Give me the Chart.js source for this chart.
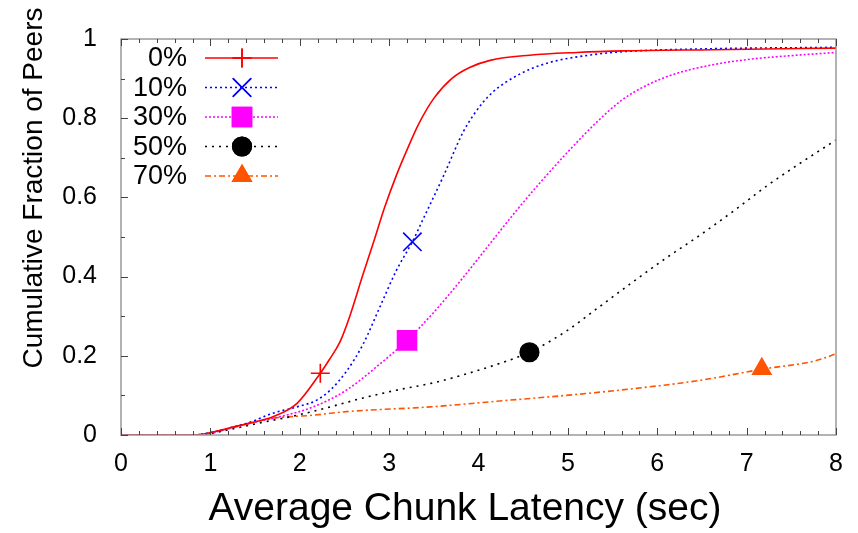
<!DOCTYPE html>
<html>
<head>
<meta charset="utf-8">
<script src="https://cdn.jsdelivr.net/npm/chart.js@4/dist/chart.umd.min.js"></script>
<style>
html,body{margin:0;padding:0;background:#fff;}
#wrap{width:858px;height:533px;}
</style>
</head>
<body>
<div id="wrap"><canvas id="c" width="858" height="533"></canvas></div>
<script>
// ---- data ----
const seriesNames = ["0%", "10%", "30%", "50%", "70%"];

const latency0 = [0, 0.8, 1.0, 1.2, 1.44, 1.7, 1.97, 2.23, 2.33, 2.45, 2.56, 2.7, 2.83, 2.95, 3.08, 3.2, 3.33, 3.5, 3.7, 3.9, 4.13, 4.57, 5.1, 5.62, 6.62, 8];
const cdf0     = [0, 0, 0.006, 0.017, 0.03, 0.046, 0.08, 0.156, 0.19, 0.235, 0.3, 0.4, 0.49, 0.575, 0.655, 0.72, 0.785, 0.85, 0.9, 0.928, 0.946, 0.959, 0.966, 0.970, 0.973, 0.977];

const latency10 = [0, 0.8, 1.0, 1.22, 1.44, 1.7, 1.97, 2.19, 2.34, 2.52, 2.71, 2.9, 3.08, 3.26, 3.38, 3.61, 3.83, 3.95, 4.05, 4.17, 4.3, 4.45, 4.6, 4.85, 5.2, 5.62, 6.5, 8];
const cdf10     = [0, 0, 0.006, 0.018, 0.032, 0.055, 0.071, 0.088, 0.113, 0.16, 0.23, 0.325, 0.415, 0.488, 0.545, 0.655, 0.766, 0.81, 0.84, 0.868, 0.89, 0.91, 0.926, 0.944, 0.958, 0.968, 0.975, 0.979];

const latency30 = [0, 0.8, 1.0, 1.22, 1.44, 1.78, 2.15, 2.52, 2.9, 3.2, 3.5, 3.8, 4.1, 4.4, 4.7, 5.0, 5.3, 5.6, 5.9, 6.2, 6.6, 7.0, 7.5, 8];
const cdf30     = [0, 0, 0.005, 0.017, 0.03, 0.046, 0.071, 0.113, 0.18, 0.239, 0.31, 0.39, 0.475, 0.56, 0.64, 0.715, 0.785, 0.845, 0.885, 0.912, 0.934, 0.948, 0.958, 0.966];

const latency50 = [0, 0.8, 1.0, 1.22, 1.5, 1.97, 2.34, 2.7, 3.08, 3.5, 3.83, 4.2, 4.57, 4.98, 5.36, 5.73, 6.1, 6.48, 6.85, 7.22, 7.59, 8];
const cdf50     = [0, 0, 0.004, 0.014, 0.028, 0.05, 0.071, 0.093, 0.113, 0.132, 0.152, 0.178, 0.209, 0.262, 0.325, 0.387, 0.447, 0.505, 0.565, 0.628, 0.685, 0.745];

const latency70 = [0, 0.8, 1.0, 1.22, 1.7, 2.15, 2.52, 3.46, 4.24, 4.98, 5.73, 6.48, 7.17, 7.78, 8];
const cdf70     = [0, 0, 0.004, 0.017, 0.042, 0.05, 0.059, 0.071, 0.086, 0.1, 0.117, 0.138, 0.166, 0.188, 0.205];

// one marker per curve
const markerX = [2.23, 3.26, 3.2, 4.57, 7.17];
const markerY = [0.156, 0.488, 0.239, 0.209, 0.167];

const xTicks = [0, 1, 2, 3, 4, 5, 6, 7, 8];
const yTicks = [0, 0.2, 0.4, 0.6, 0.8, 1];
const xTitle = "Average Chunk Latency (sec)";
const yTitle = "Cumulative Fraction of Peers";

// ---- styles ----
const colors = ["#ff0000", "#0000ff", "#ff00ff", "#000000", "#ff5500"];
const dashes = [[], [2, 3], [2, 2], [2, 5], [6, 3, 2, 3]];
const pStyles = ["cross", "crossRot", "rect", "circle", "triangle"];
const pRadius = [9.5, 13, 13.4, 9.3, 10.5];
const FONT = "'Liberation Sans', Arial, sans-serif";

const xs = [latency0, latency10, latency30, latency50, latency70];
const ys = [cdf0, cdf10, cdf30, cdf50, cdf70];

const datasets = [];
xs.forEach((xa, i) => {
  datasets.push({
    label: seriesNames[i],
    data: xa.map((x, k) => ({x: x, y: ys[i][k]})),
    showLine: true,
    borderColor: colors[i],
    borderWidth: 1.6,
    borderDash: dashes[i],
    pointRadius: 0,
    cubicInterpolationMode: 'monotone',
    fill: false
  });
});
xs.forEach((xa, i) => {
  datasets.push({
    label: seriesNames[i] + " marker",
    data: [{x: markerX[i], y: markerY[i]}],
    showLine: false,
    pointStyle: pStyles[i],
    pointRadius: pRadius[i],
    pointBorderWidth: 1.6,
    borderColor: colors[i],
    backgroundColor: colors[i],
    pointBackgroundColor: colors[i],
    pointBorderColor: colors[i]
  });
});

function drawMarker(ctx, style, r, x, y, col) {
  ctx.save();
  ctx.strokeStyle = col; ctx.fillStyle = col; ctx.lineWidth = 1.6; ctx.setLineDash([]);
  Chart.helpers.drawPoint(ctx, {pointStyle: style, radius: r, borderWidth: 1.6}, x, y);
  if (style !== 'cross' && style !== 'crossRot') ctx.fill();
  ctx.stroke();
  ctx.restore();
}

const decor = {
  id: 'decor',
  afterDatasetsDraw(chart) {
    const ctx = chart.ctx;
    const a = chart.chartArea;
    const xs_ = chart.scales.x, ys_ = chart.scales.y;
    ctx.save();
    // frame
    ctx.strokeStyle = '#999999';
    ctx.lineWidth = 1.5;
    ctx.strokeRect(a.left, a.top, a.right - a.left, a.bottom - a.top);
    // inward ticks
    ctx.strokeStyle = '#444444';
    ctx.lineWidth = 1;
    ctx.beginPath();
    for (let k = 0; k <= 40; k++) {
      const v = k * 0.2;
      const px = Math.round(xs_.getPixelForValue(v)) + 0.5;
      const len = (k % 5 === 0) ? 7 : 4;
      ctx.moveTo(px, a.bottom); ctx.lineTo(px, a.bottom - len);
      ctx.moveTo(px, a.top); ctx.lineTo(px, a.top + len);
    }
    for (let k = 0; k <= 10; k++) {
      const v = k * 0.1;
      const py = Math.round(ys_.getPixelForValue(v)) + 0.5;
      const len = (k % 2 === 0) ? 7 : 4;
      ctx.moveTo(a.left, py); ctx.lineTo(a.left + len, py);
    }
    ctx.stroke();
    // axis titles
    ctx.fillStyle = '#000';
    ctx.font = "39px " + FONT;
    ctx.textAlign = 'center';
    ctx.textBaseline = 'middle';
    ctx.fillText(xTitle, 465, 509);
    ctx.save();
    ctx.translate(34, 188);
    ctx.rotate(-Math.PI / 2);
    ctx.font = "28px " + FONT;
    ctx.fillText(yTitle, 0, 0);
    ctx.restore();
    // legend
    const rowY = [58, 87.5, 117, 146.5, 176];
    for (let i = 0; i < 5; i++) {
      const y = rowY[i];
      ctx.font = "27px " + FONT;
      ctx.textAlign = 'right';
      ctx.textBaseline = 'middle';
      ctx.fillStyle = '#000';
      ctx.fillText(seriesNames[i], 187, y + 1);
      ctx.strokeStyle = colors[i];
      ctx.lineWidth = 1.6;
      ctx.setLineDash(dashes[i]);
      ctx.beginPath(); ctx.moveTo(205, y); ctx.lineTo(278, y); ctx.stroke();
      ctx.setLineDash([]);
      drawMarker(ctx, pStyles[i], pRadius[i], 242, y, colors[i]);
    }
    ctx.restore();
  }
};

new Chart(document.getElementById('c'), {
  type: 'scatter',
  data: {datasets: datasets},
  options: {
    responsive: false,
    animation: false,
    layout: {padding: {top: 37, right: 22, left: 0, bottom: 0}},
    plugins: {legend: {display: false}, tooltip: {enabled: false}},
    scales: {
      x: {
        type: 'linear', min: 0, max: 8,
        afterBuildTicks: s => { s.ticks = xTicks.map(v => ({value: v})); },
        afterFit: s => { s.height = 98; },
        grid: {display: false, drawTicks: false},
        border: {display: false},
        ticks: {color: '#000', padding: 14, font: {family: FONT, size: 25}, maxRotation: 0,
                callback: v => String(Number(v.toFixed(1)))}
      },
      y: {
        type: 'linear', min: 0, max: 1,
        afterBuildTicks: s => { s.ticks = yTicks.map(v => ({value: v})); },
        afterFit: s => { s.width = 121; },
        grid: {display: false, drawTicks: false},
        border: {display: false},
        ticks: {color: '#000', padding: 24, font: {family: FONT, size: 25},
                callback: v => String(Number(v.toFixed(1)))}
      }
    }
  },
  plugins: [decor]
});
</script>
</body>
</html>
